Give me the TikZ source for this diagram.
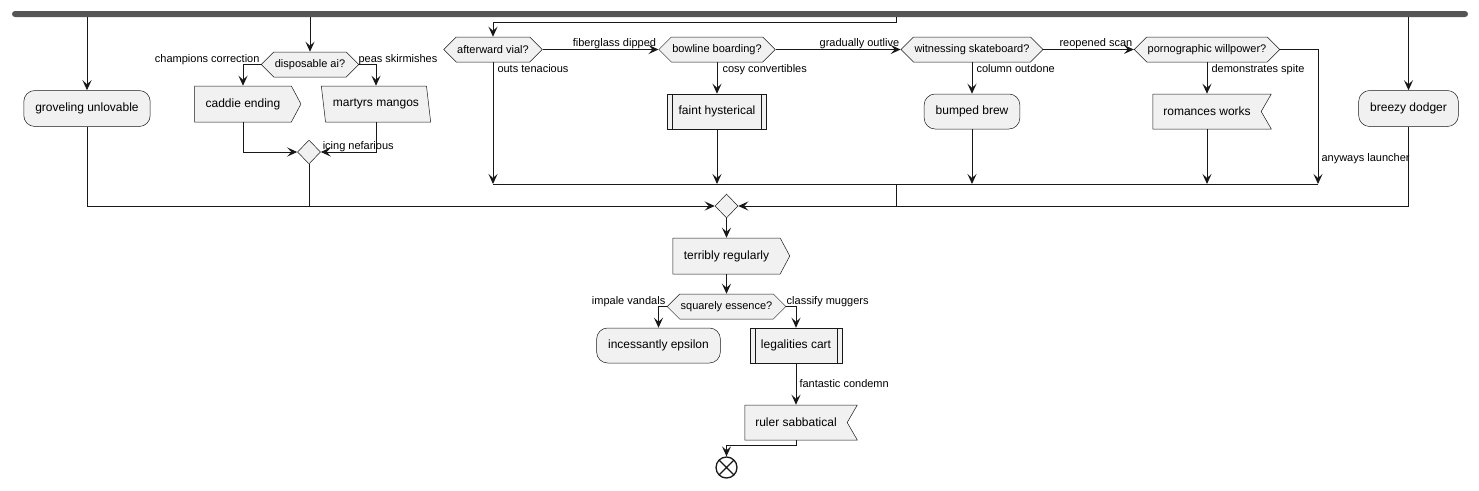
\documentclass[tikz,border=0pt]{standalone}
\usepackage{fontspec}
\setmainfont{Liberation Sans}
\usetikzlibrary{arrows.meta,shapes.geometric,shapes.symbols}
\definecolor{boxfill}{HTML}{F1F1F1}
\definecolor{boxline}{HTML}{181818}
\definecolor{barfill}{HTML}{555555}
\tikzset{
  base node/.style={
    draw=boxline,line width=0.5pt,fill=boxfill,
    font=\fontsize{12}{14}\selectfont
  },
  act box/.style={
    base node,rectangle,rounded corners=11pt,
    minimum height=36pt,inner xsep=11.5pt
  },
  sub box/.style={
    base node,rectangle,minimum height=35pt,inner xsep=11pt,
    path picture={
      \draw[boxline,line width=0.5pt]
        ([xshift=5pt]path picture bounding box.north west) --
        ([xshift=5pt]path picture bounding box.south west)
        ([xshift=-5pt]path picture bounding box.north east) --
        ([xshift=-5pt]path picture bounding box.south east);
    }
  },
  hex box/.style={
    base node,signal,signal to=west and east,signal pointer angle=90,
    minimum height=25pt,inner xsep=1pt,
    font=\fontsize{11}{13}\selectfont
  },
  pent box/.style={
    base node,signal,signal to=east,signal pointer angle=124,
    minimum height=36pt,inner xsep=11pt
  },
  flag box/.style={
    base node,signal,signal to=nowhere,signal from=east,
    signal pointer angle=120,minimum height=35pt,inner xsep=10.5pt
  },
  para box/.style={
    base node,trapezium,trapezium left angle=102.5,
    trapezium right angle=77.5,trapezium stretches=true,
    minimum height=36pt,minimum width=110pt,inner xsep=2pt
  },
  merge/.style={
    base node,diamond,minimum width=23pt,minimum height=24pt,inner sep=0pt
  },
  end node/.style={
    circle,draw=boxline,line width=1.3pt,fill=white,
    minimum size=21pt,inner sep=0pt,
    path picture={
      \draw[boxline,line width=1.3pt]
        (path picture bounding box.north west) --
        (path picture bounding box.south east)
        (path picture bounding box.south west) --
        (path picture bounding box.north east);
    }
  },
  fork bar/.style={
    fill=barfill,rounded corners=3pt,inner sep=0pt
  },
  line/.style={draw=boxline,line width=1pt},
  flow/.style={
    line,-{Stealth[length=10pt,width=9pt,inset=4pt]}
  },
  elabel/.style={font=\fontsize{11}{13}\selectfont,inner sep=0pt}
}
\begin{document}
\begin{tikzpicture}[x=1pt,y=-1pt]
  \useasboundingbox (0,0) rectangle (1479,490);

  \node[fork bar,minimum width=1456pt,minimum height=6pt] (fork) at (740,14) {};

  % upper row
  \node[act box] (gro) at (87,108.5) {groveling unlovable};
  \node[hex box] (dis) at (310,64.5) {disposable ai?};
  \node[pent box] (cad) at (243,104) {caddie ending};
  \node[para box] (mar) at (376,104) {martyrs mangos};
  \node[merge] (mg1) at (309,152) {};

  \node[hex box] (afv) at (493,49.5) {afterward vial?};
  \node[hex box] (bow) at (717,49.5) {bowline boarding?};
  \node[sub box] (fai) at (717,111.5) {faint hysterical};
  \node[hex box] (wit) at (972,49.5) {witnessing skateboard?};
  \node[act box,minimum height=35pt] (bum) at (972,111.5) {bumped brew};
  \node[hex box] (por) at (1207,49.5) {pornographic willpower?};
  \node[flag box] (rom) at (1207,111.5) {romances works};
  \node[act box] (bre) at (1408.5,108.5) {breezy dodger};

  \coordinate (j1) at (896,184);
  \coordinate (j2) at (1318,184);

  % lower column
  \node[merge] (mg2) at (726.5,206) {};
  \node[pent box] (ter) at (726.5,256) {terribly regularly};
  \node[hex box] (squ) at (726.5,306.5) {squarely essence?};
  \node[act box,minimum height=35pt] (inc) at (658.5,345.5) {incessantly epsilon};
  \node[sub box] (leg) at (796,345.5) {legalities cart};
  \node[flag box] (rul) at (796,422.5) {ruler sabbatical};
  \node[end node] (stop) at (726.5,467.5) {};

  % from the fork
  \draw[flow] (fork.south -| gro) -- (gro.north);
  \draw[flow] (fork.south -| dis) -- (dis.north);
  \draw[flow] (fork.south -| j1) -- ++(0,5) -| (afv.north);
  \draw[flow] (fork.south -| bre) -- (bre.north);

  \draw[flow] (dis.west)
    node[elabel,anchor=base east,xshift=-1pt,yshift=2.5pt] (lchamp) {champions correction}
    -| (cad.north);
  \draw[flow] (dis.east)
    node[elabel,anchor=base west,xshift=-1pt,yshift=2.5pt] (lpeas) {peas skirmishes}
    -| (mar.north);
  \draw[flow] (cad.south) |- (mg1.west);
  \draw[flow] (mar.south) |- (mg1.east)
    node[elabel,anchor=base west,xshift=1.5pt,yshift=3pt] (licing) {icing nefarious};

  \draw[flow] (afv.east) -- (bow.west)
    node[elabel,anchor=base east,xshift=-2pt,yshift=3pt] (lfiber) {fiberglass dipped};
  \draw[flow] (bow.east) -- (wit.west)
    node[elabel,anchor=base east,xshift=-1pt,yshift=3pt] (lgrad) {gradually outlive};
  \draw[flow] (wit.east) -- (por.west)
    node[elabel,anchor=base east,xshift=-1pt,yshift=3pt] (lreop) {reopened scan};

  \draw[flow] (afv.south)
    node[elabel,anchor=base west,xshift=4pt,yshift=-10pt] (louts) {outs tenacious}
    -- (afv.south |- j1);
  \draw[flow] (bow.south)
    node[elabel,anchor=base west,xshift=5pt,yshift=-10pt] (lcosy) {cosy convertibles}
    -- (fai.north);
  \draw[flow] (wit.south)
    node[elabel,anchor=base west,xshift=4pt,yshift=-10pt] (lcol) {column outdone}
    -- (bum.north);
  \draw[flow] (por.south)
    node[elabel,anchor=base west,xshift=4pt,yshift=-10pt] (ldem) {demonstrates spite}
    -- (rom.north);
  \draw[flow] (por.east) -| (j2)
    node[elabel,anchor=base west,xshift=3pt,yshift=23pt] (lany) {anyways launcher};

  \draw[flow] (fai.south) -- (fai.south |- j1);
  \draw[flow] (bum.south) -- (bum.south |- j1);
  \draw[flow] (rom.south) -- (rom.south |- j1);
  \draw[line] (afv.south |- j1) -- (j2);
  \draw[line] (j1) -- (j1 |- mg2);

  % into the merge
  \draw[flow] (gro.south) |- (mg2.west);
  \draw[line] (mg1.south) -- (mg1.south |- mg2);
  \draw[flow] (bre.south) |- (mg2.east);

  \draw[flow] (mg2.south) -- (ter.north);
  \draw[flow] (ter.south) -- (squ.north);
  \draw[flow] (squ.west)
    node[elabel,anchor=base east,xshift=-1pt,yshift=2.5pt] (limp) {impale vandals}
    -| (inc.north);
  \draw[flow] (squ.east)
    node[elabel,anchor=base west,yshift=2.5pt] (lcls) {classify muggers}
    -| (leg.north);
  \draw[flow] (leg.south) -- (rul.north)
    node[elabel,pos=0.5,anchor=west,xshift=3pt] (lfan) {fantastic condemn};
  \draw[flow] (rul.south) -- ++(0,5) -| (stop.north);
\end{tikzpicture}
\end{document}
